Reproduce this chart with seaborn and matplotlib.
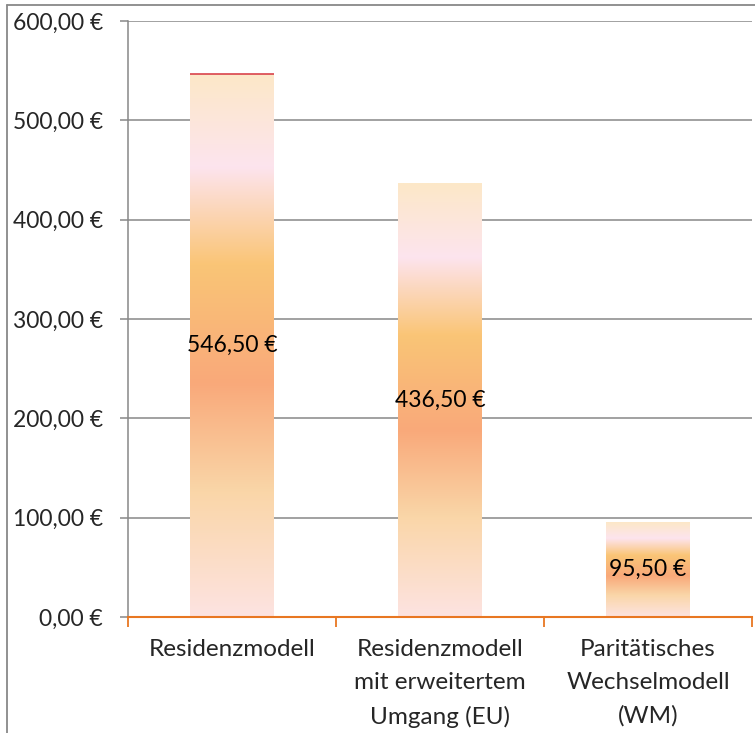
import numpy as np
import pandas as pd
import matplotlib
matplotlib.use("Agg")
import matplotlib.pyplot as plt
from matplotlib.colors import LinearSegmentedColormap
from matplotlib.lines import Line2D
import seaborn as sns

categories = ["Residenzmodell", "Residenzmodell\nmit erweitertem\nUmgang (EU)", "Paritätisches\nWechselmodell\n(WM)"]
values = [546.50, 436.50, 95.50]
yticks = [0, 100, 200, 300, 400, 500, 600]

sns.set_theme(style="white")
plt.rcParams['font.family'] = ['Lato', 'DejaVu Sans']

df = pd.DataFrame({"cat": categories, "val": values})

fig = plt.figure(figsize=(7.55, 7.33), dpi=100)
ax = fig.add_axes([128/755, 1-617/733, 1-128/755-3/755, (617-21)/733])
sns.barplot(data=df, x="cat", y="val", ax=ax, width=0.4, color="#F9A97A")

stops = [(0.0, "#FDE3E1"), (0.23, "#FAD6A8"), (0.43, "#F9A97A"), (0.65, "#FAC576"),
         (0.83, "#FDE4EE"), (1.0, "#FCE8C8")]
cmap = LinearSegmentedColormap.from_list("grad", stops)
grad = np.linspace(0, 1, 256).reshape(-1, 1)
for i, p in enumerate(ax.patches):
    x0, y0 = p.get_x(), p.get_y()
    w, h = p.get_width(), p.get_height()
    p.set_facecolor("none")
    p.set_edgecolor("none")
    im = ax.imshow(grad, cmap=cmap, origin="lower", aspect="auto",
                   extent=[x0, x0 + w, y0, y0 + h], zorder=2, interpolation="bilinear")
    im.set_clip_path(p)
    if i == 0:
        ax.hlines(h, x0, x0 + w, color="#D9434B", linewidth=1.2, zorder=3)
    ax.text(x0 + w / 2, h / 2, f"{h:.2f} €".replace(".", ","),
            ha="center", va="center", fontsize=16.5, color="black", zorder=3)

ax.set_xlim(-0.5, 2.5)
ax.set_ylim(0, 600)
ax.set_yticks(yticks)
ax.set_yticklabels([f"{v:.2f} €".replace(".", ",") for v in yticks], fontsize=16.5)
ax.yaxis.grid(True, color="#888888", linewidth=1.1)
ax.set_axisbelow(True)
ax.set_xlabel("")
ax.set_ylabel("")
ax.set_xticks(range(len(categories)))
ax.set_xticklabels(categories, fontsize=17.5, linespacing=1.7)
ax.set_xticks([-0.5, 0.5, 1.5, 2.5], minor=True)
ax.tick_params(axis="x", which="major", length=0, pad=16, bottom=True)
ax.tick_params(axis="x", which="minor", length=7, width=1.3, color="#E87722", direction="out", bottom=True)
ax.tick_params(axis="y", length=6, width=1.1, color="#888888", direction="out", left=True, pad=12)
for s in ["top", "right"]:
    ax.spines[s].set_visible(False)
ax.spines["left"].set_color("#888888")
ax.spines["left"].set_linewidth(1.1)
ax.spines["bottom"].set_color("#E87722")
ax.spines["bottom"].set_linewidth(1.5)
ax.spines["bottom"].set_zorder(4)

fig.add_artist(Line2D([7/755, 7/755], [0, 1-5/733], transform=fig.transFigure, color="#888888", lw=1.3))
fig.add_artist(Line2D([7/755, 1], [1-5/733, 1-5/733], transform=fig.transFigure, color="#888888", lw=1.3))

fig.savefig("out.png", dpi=100)
